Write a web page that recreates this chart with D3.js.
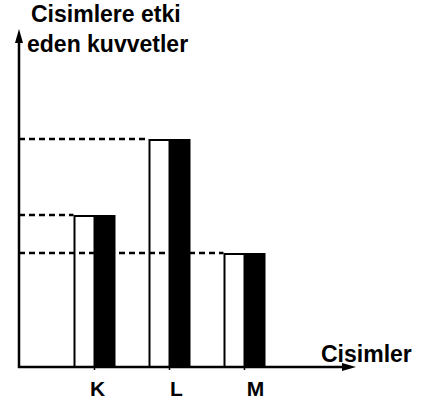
<!DOCTYPE html>
<html><head><meta charset="utf-8">
<script src="https://cdn.jsdelivr.net/npm/d3@7"></script>
<style>body{margin:0;background:#fff}svg{display:block}text{font-family:"Liberation Sans",Arial,sans-serif;font-weight:bold;fill:#000}</style>
</head><body>
<script>
const categories = ["K", "L", "M"];
const seriesNames = ["white", "black"];
const whiteValues = [4, 6, 3];
const blackValues = [4, 6, 3];
const titleLines = ["Cisimlere etki", "eden kuvvetler"];
const xTitle = "Cisimler";

const W = 424, H = 405;
const svg = d3.select("body").append("svg").attr("width", W).attr("height", H);

const originX = 19, originY = 367;
const y = d3.scaleLinear().domain([0, 1]).range([originY, originY - 38]);
const x = d3.scaleBand().domain(categories).range([57, 282]).paddingInner(0.44).paddingOuter(0.22);
const xs = d3.scaleBand().domain(seriesNames).range([0, x.bandwidth()]);

const data = categories.map((c, i) => ({cat: c, white: whiteValues[i], black: blackValues[i]}));

// bars
const g = svg.append("g");
data.forEach(d => {
  g.append("rect")
    .attr("x", x(d.cat) + xs("white") + 1)
    .attr("y", y(d.white) + 1)
    .attr("width", xs.bandwidth() - 1)
    .attr("height", y(0) - y(d.white) - 1)
    .attr("fill", "#fff").attr("stroke", "#000").attr("stroke-width", 2);
  g.append("rect")
    .attr("x", x(d.cat) + xs("black"))
    .attr("y", y(d.black))
    .attr("width", xs.bandwidth())
    .attr("height", y(0) - y(d.black))
    .attr("fill", "#000");
});

// dashed guide lines
data.forEach(d => {
  svg.append("line")
    .attr("x1", originX).attr("x2", x(d.cat))
    .attr("y1", y(d.white)).attr("y2", y(d.white))
    .attr("stroke", "#000").attr("stroke-width", 2.5).attr("stroke-dasharray", "6,4");
});

// axes
svg.append("line").attr("x1", originX).attr("x2", originX).attr("y1", originY + 1).attr("y2", 40)
  .attr("stroke", "#000").attr("stroke-width", 2.5);
svg.append("path").attr("d", `M${originX},29 L${originX - 4},43 L${originX + 4},43 Z`).attr("fill", "#000");
svg.append("line").attr("x1", originX - 1).attr("x2", 344).attr("y1", originY).attr("y2", originY)
  .attr("stroke", "#000").attr("stroke-width", 2.5);
svg.append("path").attr("d", `M356,${originY} L342,${originY - 4} L342,${originY + 4} Z`).attr("fill", "#000");

// ticks and labels
categories.forEach((c, i) => {
  const cx = x(c) + xs("black");
  svg.append("line").attr("x1", cx).attr("x2", cx).attr("y1", originY).attr("y2", originY + 3)
    .attr("stroke", "#000").attr("stroke-width", 1.5);
  svg.append("text").attr("x", cx + 3 + i * 4).attr("y", 396).attr("text-anchor", "middle")
    .attr("font-size", 21).text(c);
});

svg.append("text").attr("x", 31).attr("y", 22).attr("font-size", 23).text(titleLines[0]);
svg.append("text").attr("x", 27).attr("y", 52).attr("font-size", 23).text(titleLines[1]);
svg.append("text").attr("x", 321).attr("y", 362).attr("font-size", 23).text(xTitle);
</script>
</body></html>
